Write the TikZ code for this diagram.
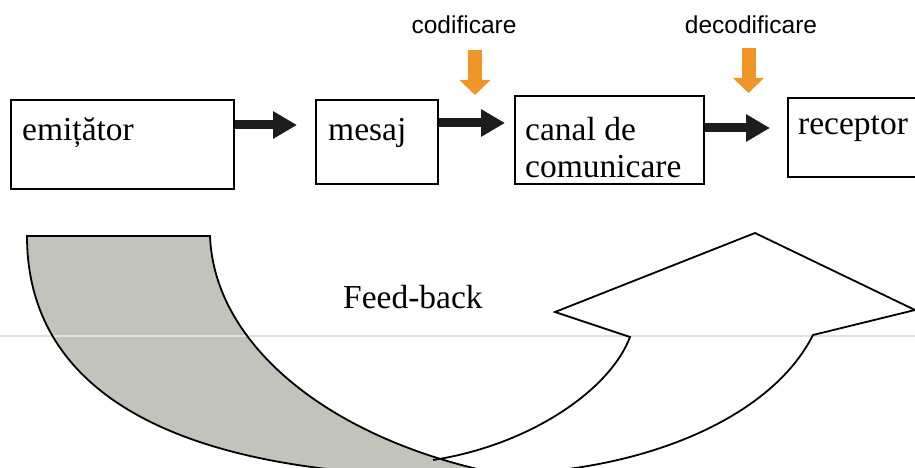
\documentclass[tikz,border=0pt]{standalone}
\usepackage{fontspec}
\setmainfont{Liberation Serif}
\setsansfont{Liberation Sans}
\usetikzlibrary{arrows.meta}
\definecolor{arroworange}{RGB}{240,150,40}
\definecolor{tailgray}{RGB}{194,195,186}
\definecolor{bandgray}{RGB}{224,224,224}
\definecolor{arrowblack}{RGB}{28,28,28}
\begin{document}
\begin{tikzpicture}[x=1pt,y=-1pt,
  box/.style={draw=black, line width=1.8pt, fill=white, inner sep=0pt, anchor=north west},
  lbl/.style={inner sep=0pt, anchor=base west, font=\fontsize{33.5}{37}\selectfont},
  toplbl/.style={inner sep=0pt, anchor=base, font=\sffamily\fontsize{24.5}{27}\selectfont},
  bigarrow/.style={draw=arrowblack, line width=9pt, -{Triangle[length=24pt,width=26pt]}},
  orangearrow/.style={draw=arroworange, line width=14pt, -{Triangle[length=15pt,width=30pt]}},
  outline/.style={draw=black, line width=1.8pt, line join=miter}
]
\useasboundingbox (0,0) rectangle (915,468);
\clip (0,0) rectangle (915,468);

% boxes
\node[box, minimum width=223pt, minimum height=89pt] (emit) at (10,99) {};
\node[box, minimum width=122pt, minimum height=84pt] (mesaj) at (315,99) {};
\node[box, minimum width=189pt, minimum height=88pt] (canal) at (514,95) {};
\node[box, minimum width=160pt, minimum height=79pt] (recep) at (787,97) {};

% box texts
\node[lbl] (emittxt) at (22,140) {emițător};
\node[lbl] (mesajtxt) at (328,140) {mesaj};
\node[lbl] (canaltxta) at (525,140) {canal de};
\node[lbl] (canaltxtb) at (525,177) {comunicare};
\node[lbl] (receptxt) at (798,135) {receptor};

% black arrows
\coordinate (a1s) at ([yshift=-26pt]emit.north east);
\coordinate (a2s) at ([yshift=-24pt]mesaj.north east);
\coordinate (a3s) at ([yshift=-33pt]canal.north east);
\draw[bigarrow, shorten >=18pt] (a1s) -- (a1s -| mesaj.west);
\draw[bigarrow, shorten >=9pt] (a2s) -- (a2s -| canal.west);
\draw[bigarrow, shorten >=17pt] (a3s) -- (a3s -| recep.west);

% top labels and orange arrows
\node[toplbl] (cod) at (464,34) {codificare};
\node[toplbl] (decod) at (751,34) {decodificare};
\coordinate (codtop) at (475,50);
\coordinate (codtip) at (475,95);
\coordinate (dectop) at (748.5,48);
\coordinate (dectip) at (748.5,93);
\draw[orangearrow] (codtop) -- (codtip);
\draw[orangearrow] (dectop) -- (dectip);

% feedback curved arrow: fills
\fill[white] (410,466) -- (433,460) .. controls (530,445) and (610,390) .. (630,337)
  -- (555,312) -- (755,233) -- (915,310) -- (813,335)
  .. controls (770,420) and (640,472) .. (500,474) -- cycle;
\fill[tailgray] (27,236) -- (210,236) .. controls (214,345) and (330,440) .. (500,474)
  -- (480,476) .. controls (190,480) and (27,400) .. (27,236) -- cycle;

% faint horizontal band (scan line)
\draw[bandgray, line width=2.5pt] (0,336) -- (915,336);

% feedback curved arrow: outlines
\draw[outline] (433,460) .. controls (530,445) and (610,390) .. (630,337)
  -- (555,312) -- (755,233) -- (915,310) -- (813,335)
  .. controls (770,420) and (640,472) .. (500,474);
\draw[outline] (27,236) -- (210,236) .. controls (214,345) and (330,440) .. (500,474)
  -- (480,476) .. controls (190,480) and (27,400) .. (27,236) -- cycle;

\node[lbl] (fb) at (343,308) {Feed-back};
\end{tikzpicture}
\end{document}
